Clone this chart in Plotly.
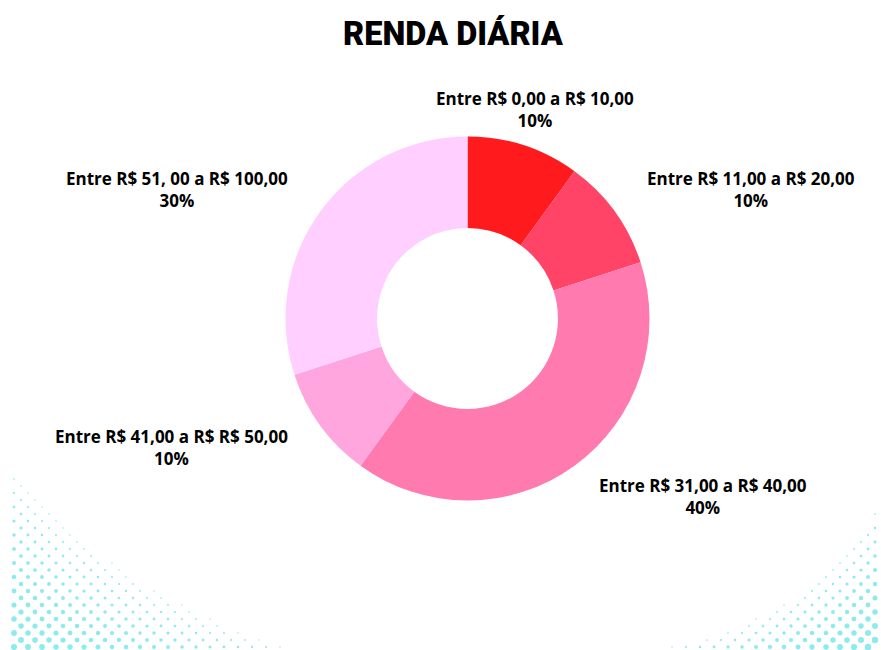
import numpy as np
import plotly.graph_objects as go

# ---- data ----
categories = [
    "Entre R$ 0,00 a R$ 10,00",
    "Entre R$ 11,00 a R$ 20,00",
    "Entre R$ 31,00 a R$ 40,00",
    "Entre R$ 41,00 a R$ R$ 50,00",
    "Entre R$ 51, 00 a R$ 100,00",
]
values = [10, 10, 40, 10, 30]
colors = ["#FF1A1E", "#FF4468", "#FF7AAF", "#FFA6DE", "#FFD0FF"]
title_text = "RENDA DIÁRIA"

W, H = 881, 650

fig = go.Figure()

# ---- decorative halftone dots (background) ----
def halftone(cx, cy, rx, ry, p, smin, smax):
    xs, ys, ss = [], [], []
    for j, y in enumerate(np.arange(H - 3, H - ry - 10, -7)):
        off = 7 if j % 2 else 0
        for x in np.arange(14 + off, W - 2, 14):
            d = ((abs(x - cx) / rx) ** p + (abs(y - cy) / ry) ** p) ** (1 / p)
            if d < 1:
                xs.append(x); ys.append(y); ss.append(smin + (smax - smin) * (1 - d) ** 0.8)
    return xs, ys, ss

lx, ly, ls = halftone(0, H, 305, 205, 0.75, 1.3, 6.5)
rx_, ry_, rs = halftone(W, H, 240, 165, 0.65, 1.3, 7.0)
fig.add_trace(go.Scatter(
    x=lx + rx_, y=ly + ry_, mode="markers",
    marker=dict(color="#5CE1E6", size=ls + rs, line=dict(width=0)),
    xaxis="x", yaxis="y", hoverinfo="skip", showlegend=False,
))

# ---- donut ----
cx, cy, R = 467.5, 318.5, 182
fig.add_trace(go.Pie(
    labels=categories, values=values, sort=False, direction="clockwise",
    rotation=0, hole=0.497,
    marker=dict(colors=colors, line=dict(width=0)),
    textinfo="none",
    domain=dict(x=[(cx - R) / W, (cx + R) / W], y=[1 - (cy + R) / H, 1 - (cy - R) / H]),
    hoverinfo="skip", showlegend=False,
))

# ---- outside labels, placed along each slice's mid angle ----
annotations = []
total = float(sum(values))
cum = 0.0
label_r = 220
for lab, v in zip(categories, values):
    mid = (cum + v / 2) / total * 2 * np.pi
    cum += v
    s, c = np.sin(mid), np.cos(mid)
    px = cx + label_r * s
    py = cy - label_r * c
    if abs(s) < 0.4:
        xa = "center"
    elif s > 0:
        xa = "left"
    else:
        xa = "right"
    annotations.append(dict(
        text=f"{lab}<br>{round(v / total * 100)}%",
        x=px / W, y=1 - py / H, xref="paper", yref="paper",
        showarrow=False, xanchor=xa, yanchor="middle", align="center",
        font=dict(family="Open Sans", size=17, color="#000000", weight="bold"),
    ))

annotations.append(dict(
    text=title_text, x=453.5 / W, y=1 - 34 / H, xref="paper", yref="paper",
    showarrow=False, xanchor="center", yanchor="middle",
    font=dict(family="Roboto", size=32.5, color="#000000", weight=900),
))

fig.update_layout(
    width=W, height=H,
    margin=dict(l=0, r=0, t=0, b=0),
    paper_bgcolor="white", plot_bgcolor="rgba(0,0,0,0)",
    xaxis=dict(range=[0, W], visible=False, fixedrange=True),
    yaxis=dict(range=[H, 0], visible=False, fixedrange=True),
    showlegend=False,
    annotations=annotations,
)

fig.write_html("out.html", config={"displayModeBar": False},
               post_script="document.body.style.margin='0';")
